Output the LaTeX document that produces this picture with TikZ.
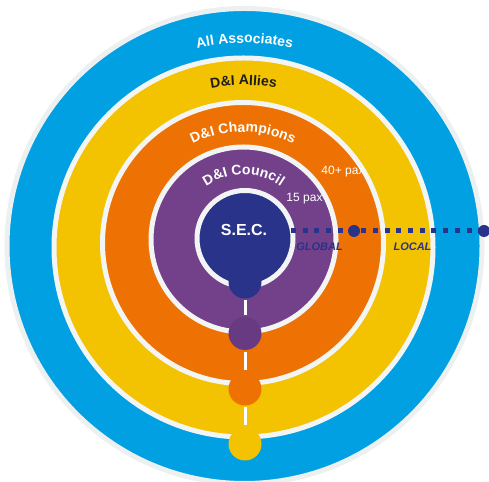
\documentclass[tikz,border=0pt]{standalone}
\usepackage{fontspec}
\setmainfont{Liberation Sans}
\usepackage{tikz}
\usetikzlibrary{decorations.text}

\definecolor{ablue}{RGB}{0,160,226}
\definecolor{ayellow}{RGB}{243,194,0}
\definecolor{aorange}{RGB}{238,114,3}
\definecolor{apurple}{RGB}{114,65,138}
\definecolor{adpurple}{RGB}{104,58,130}
\definecolor{anavy}{RGB}{40,51,137}
\definecolor{gap}{RGB}{243,245,245}
\definecolor{halo}{RGB}{236,240,240}
\definecolor{ink}{RGB}{29,29,27}

\begin{document}
\begin{tikzpicture}	[
		x = 1pt,
		y = 1pt,
		ring/.style = {
			circle,
			draw = gap,
			line width = 5pt,
			inner sep = 0pt,
			outer sep = 0pt
		},
		knob/.style = {
			circle,
			inner sep = 0pt,
			outer sep = 0pt,
			minimum size = 33pt
		},
		seg/.style = {
			white,
			line width = 3pt,
			shorten < = 2pt,
			shorten > = 2pt
		},
		dots/.style = {
			anavy,
			line width = 5pt,
			dash pattern = on 5pt off 6.7pt
		},
		marker/.style = {
			circle,
			fill = anavy,
			inner sep = 0pt,
			minimum size = 12pt
		},
		curved/.style 2 args = {
			decorate,
			decoration = {
				text along path,
				text align = center,
				text color = #1,
				text = {|\bfseries\fontsize{14}{14}\selectfont|#2}
			}
		},
		pax/.style = {
			white,
			font = \fontsize{12}{12}\selectfont
		},
		scope/.style = {
			anavy,
			font = \bfseries\itshape\fontsize{11}{11}\selectfont
		}
	]
	\useasboundingbox (0,0) rectangle (489,481);
	\clip (0,0) rectangle (489,481);

	\node [ring, fill=ablue, draw=halo, minimum size=475pt] (all) at (244.5,235) {};
	\node [ring, fill=ayellow, minimum size=379pt] (allies) at (243.5,233.5) {};
	\node [knob, fill=ayellow] (k4) at (245,37) {};

	\node [ring, fill=aorange, minimum size=281pt] (champ) at (243,238) {};
	\node [knob, fill=aorange] (k3) at (245,92) {};

	\node [ring, fill=apurple, minimum size=185pt] (council) at (243.5,241.5) {};
	\node [knob, fill=adpurple] (k2) at (245,147.5) {};

	\node [ring, fill=anavy, minimum size=96pt] (sec) at (245,242.5) {};
	\node [knob, fill=anavy] (k1) at (245,199) {};

	\draw [seg] (k1) -- (k2);
	\draw [seg] (k2) -- (k3);
	\draw [seg] (k3) -- (k4);

	\path [curved={white}{All Associates}] (all.center) ++(130:203) arc [start angle=130, end angle=50, radius=203];
	\path [curved={ink}{D{\&}I Allies}] (allies.center) ++(130:162.5) arc [start angle=130, end angle=50, radius=162.5];
	\path [curved={white}{D{\&}I Champions}] (champ.center) ++(150:111) arc [start angle=150, end angle=30, radius=111];
	\path [curved={white}{D{\&}I Council}] (council.center) ++(160:65) arc [start angle=160, end angle=20, radius=65];

	\node [white, font=\bfseries\fontsize{16}{16}\selectfont] at (244,251) {S.E.C.};
	\node [pax] at (343,309) {40+ pax};
	\node [pax] at (304.5,282) {15 pax};

	\coordinate (lend) at (484,250);
	\draw [dots] ([xshift=-2pt]sec.east |- lend) -- (lend);
	\node [marker] (mid) at (354,250) {};
	\node [marker] (far) at (lend) {};

	\node [scope] at (319.5,234.5) {GLOBAL};
	\node [scope] at (412.5,234) {LOCAL};
\end{tikzpicture}
\end{document}
